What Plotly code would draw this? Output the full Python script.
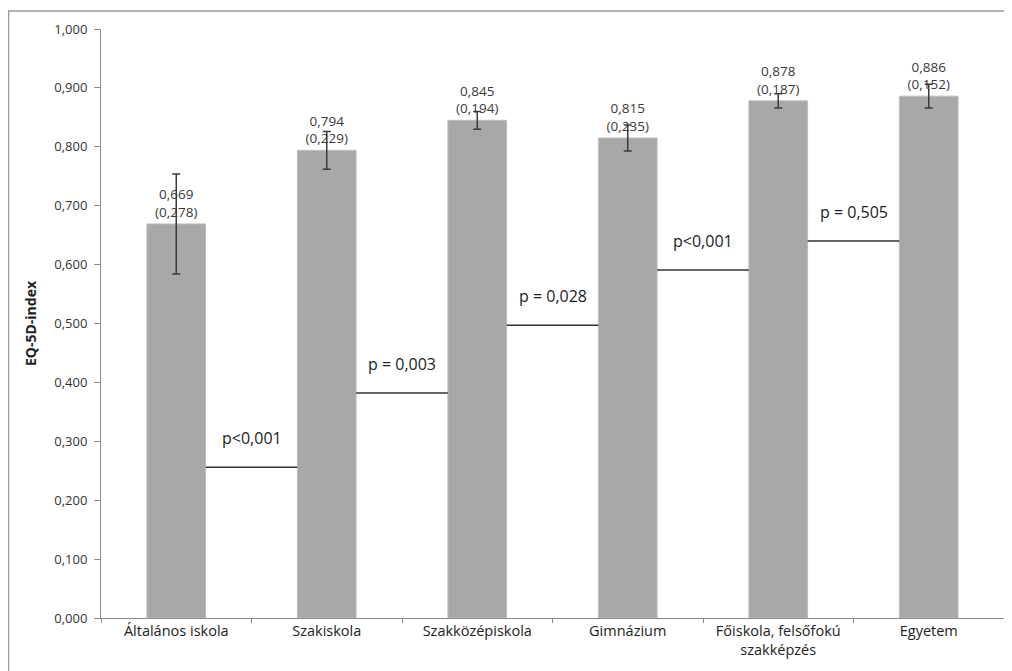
import plotly.graph_objects as go

categories = ["Általános iskola", "Szakiskola", "Szakközépiskola", "Gimnázium",
              "Főiskola, felsőfokú<br>szakképzés", "Egyetem"]
means = [0.669, 0.794, 0.845, 0.815, 0.878, 0.886]
sds = [0.278, 0.229, 0.194, 0.235, 0.187, 0.152]
err = [0.085, 0.032, 0.015, 0.022, 0.012, 0.020]
p_labels = ["p<0,001", "p = 0,003", "p = 0,028", "p<0,001", "p = 0,505"]
p_levels = [0.256, 0.382, 0.497, 0.591, 0.640]
y_ticks = [i / 10 for i in range(11)]

BAR_W = 0.39
FONT = "Open Sans"

# page body has an 8px margin; figure is sized/offset to compensate
W, H = 1004, 663
L, R, T, B = 93, 8, 21, 53
PW = W - L - R
PH = H - T - B

def fmt(v):
    return f"{v:.3f}".replace(".", ",")

labels = [f"{fmt(m)}<br>({fmt(s)})" for m, s in zip(means, sds)]

fig = go.Figure()
fig.add_trace(go.Bar(
    x=categories, y=means, width=BAR_W,
    marker=dict(color="#a8a8a8", line=dict(color="#bdbdbd", width=1)),
    error_y=dict(type="data", array=err, visible=True, color="#3a3a3a",
                 thickness=1.5, width=4),
    text=labels, textposition="outside", cliponaxis=False, constraintext="none",
    textfont=dict(family=FONT, size=13.5, color="#3a3a3a"),
    hoverinfo="skip",
))

shapes = []
annotations = []
for i, (lab, lvl) in enumerate(zip(p_labels, p_levels)):
    x0 = i + BAR_W / 2
    x1 = i + 1 - BAR_W / 2
    shapes.append(dict(type="line", xref="x", yref="y", x0=x0, x1=x1, y0=lvl, y1=lvl,
                       line=dict(color="#333333", width=1.5)))
    annotations.append(dict(x=i + 0.5, y=lvl, xref="x", yref="y", text=lab,
                            showarrow=False, yanchor="bottom", yshift=16,
                            font=dict(family=FONT, size=16, color="#222222")))

# outer frame
shapes.append(dict(type="rect", xref="paper", yref="paper",
                   x0=(0.5 - L) / PW, x1=(W + 2 - L) / PW,
                   y0=(PH - (H + 20 - T)) / PH, y1=(PH - (3 - T)) / PH,
                   line=dict(color="#9a9a9a", width=1.5), fillcolor="rgba(0,0,0,0)",
                   layer="below"))

fig.update_layout(
    width=W, height=H,
    margin=dict(l=L, r=R, t=T, b=B),
    paper_bgcolor="white", plot_bgcolor="white",
    separators=", ",
    showlegend=False,
    font=dict(family=FONT, color="#222222"),
    shapes=shapes, annotations=annotations,
)
fig.update_xaxes(
    showline=True, linecolor="#8c8c8c", linewidth=1,
    ticks="outside", tickson="boundaries", ticklen=4, tickcolor="#8c8c8c",
    tickfont=dict(family=FONT, size=14.5, color="#222222"),
    showgrid=False, zeroline=False,
)
fig.update_yaxes(
    range=[0, 1.0], tickvals=y_ticks, tickformat=".3f",
    showline=True, linecolor="#8c8c8c", linewidth=1,
    ticks="outside", ticklen=6, tickcolor="#8c8c8c", ticklabelstandoff=4,
    tickfont=dict(family=FONT, size=13, color="#333333"),
    showgrid=False, zeroline=False,
    title=dict(text="<b>EQ-5D-index</b>", font=dict(family=FONT, size=14, color="#222222"),
               standoff=14),
)

fig.write_html("out.html")
